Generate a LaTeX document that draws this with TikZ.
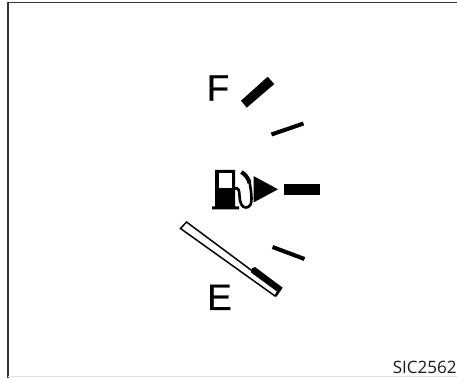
\documentclass[tikz,border=0pt]{standalone}
\usepackage{fontspec}
\setmainfont{Liberation Sans}
\newfontfamily\gaugefont[FakeBold=0.6]{Liberation Sans}
\newfontfamily\codefont{Open Sans}
\tikzset{
    gaugemark/.style={black, line width=2.3pt},
    gaugelabel/.style={font=\gaugefont\fontsize{21}{21}\selectfont, text=black, inner sep=0pt, anchor=base},
}
\begin{document}
\begin{tikzpicture}[x=0.02cm, y=-0.02cm]
    \useasboundingbox (0,0) rectangle (457,378);
    \fill[white] (0,0) rectangle (457,378);

    % Frame
    \draw[black!80, line width=0.85pt] (8,378) -- (8,2.5) -- (457,2.5);
    \draw[black!12, line width=0.6pt] (8,376.8) -- (457,376.8);

    % Thin marks
    \draw[gaugemark] (271.5,134.5) -- (303.5,123.5);
    \draw[gaugemark] (272.5,247) -- (304.5,259);

    % Full and centre marks
    \fill[black] (241,100.7) -- (246.7,107.7) -- (274.3,84) -- (267.7,76.7) -- cycle;
    \fill[black] (284,184) rectangle (320,194.7);

    % Pointer
    \draw[black, line width=0.85pt, fill=white] (180.5,228.5) -- (186.5,222) -- (251,270) -- (279,290) -- (275,296) -- cycle;
    \fill[black] (252,268.3) -- (255,267) -- (282.7,287.7) -- (276.5,296.7) -- (274.8,295.5) -- (277,291.5) -- (251,272.5) -- cycle;

    % Pump
    \fill[black] (215,170) -- (235,170) -- (235,206.5) -- (239,206.5) -- (239,209.5) -- (212,209.5) -- (212,206.5) -- (215,206.5) -- cycle;
    \fill[white] (218.5,173.3) rectangle (232,188.5);
    \draw[black, line width=1.5pt] (235,188.5) .. controls (238.5,187.5) and (239.3,190) .. (239.5,196) .. controls (239.7,203) and (242,207.5) .. (245.8,207.5) .. controls (250,207.5) and (251.8,204) .. (251.5,198) .. controls (251.2,192) and (250.5,187) .. (249.5,182);
    \draw[black, line width=2.3pt] (249.5,183) .. controls (248.5,178) and (245,174.5) .. (241.5,172);

    % Pointer head
    \fill[black] (253.5,176) -- (253.5,202.5) -- (278,189.3) -- cycle;

    % Labels
    \node[gaugelabel] (fulllabel) at (218,100.7) {F};
    \node[gaugelabel] (emptylabel) at (219.5,310) {E};
    \node[font=\codefont\fontsize{9.7}{9.7}\selectfont, text=black!90, anchor=base east, inner sep=0pt] (codelabel) at (457,373.7) {SIC2562};
\end{tikzpicture}
\end{document}
